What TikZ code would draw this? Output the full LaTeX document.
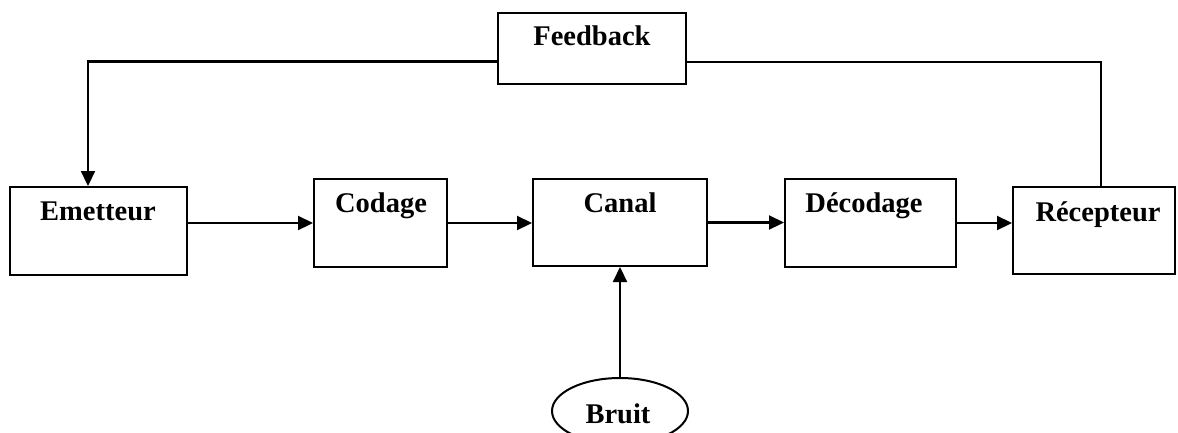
\documentclass[tikz,border=0pt]{standalone}
\usepackage{fontspec}
\setmainfont{Liberation Serif}
\usetikzlibrary{arrows.meta,calc,shapes.geometric}
\begin{document}
\begin{tikzpicture}[x=1pt,y=-1pt,
  box/.style={draw,line width=2pt,rectangle,inner sep=0pt},
  lbl/.style={anchor=base,inner sep=0pt,font=\fontsize{28.5}{30}\selectfont\bfseries},
  conn/.style={line width=2pt},
  arr/.style={line width=2.2pt,-{Triangle[length=15pt,width=14pt]}}]
\useasboundingbox (0,0) rectangle (1178,432);
% boxes
\node[box,minimum width=188pt,minimum height=71pt] (fb) at (592,48.5) {};
\node[box,minimum width=177pt,minimum height=88pt] (emet) at (98.5,231) {};
\node[box,minimum width=133pt,minimum height=88pt] (cod) at (380.5,223) {};
\node[box,minimum width=174pt,minimum height=87pt] (can) at (620,222.5) {};
\node[box,minimum width=171pt,minimum height=88pt] (dec) at (870.5,223) {};
\node[box,minimum width=162pt,minimum height=87pt] (rec) at (1094,230.5) {};
\node[draw,line width=2pt,ellipse,minimum width=136pt,minimum height=66pt,inner sep=0pt] (bruit) at (620,411) {};
% labels
\node[lbl] (fbt) at (592,45.5) {Feedback};
\node[lbl] (emett) at (98,220) {Emetteur};
\node[lbl] (codt) at (381,212) {Codage};
\node[lbl] (cant) at (620,212) {Canal};
\node[lbl] (dect) at (864,212) {Décodage};
\node[lbl] (rect) at (1098,221) {Récepteur};
\node[lbl] (bruitt) at (618,423) {Bruit};
% connectors
\draw[arr] (emet.east |- cod.west) -- (cod.west);
\draw[arr] (cod.east) -- (cod.east -| can.west);
\draw[arr] (can.east) -- (can.east -| dec.west);
\draw[arr] (dec.east) -- (dec.east -| rec.west);
\draw[arr] (bruit.north) -- (can.south);
\draw[arr] ([yshift=23.5pt]fb.south west) -| ([xshift=-10.5pt]emet.north);
\draw[conn] ([yshift=23.5pt]fb.south east) -| ([xshift=7pt]rec.north);
\end{tikzpicture}
\end{document}
